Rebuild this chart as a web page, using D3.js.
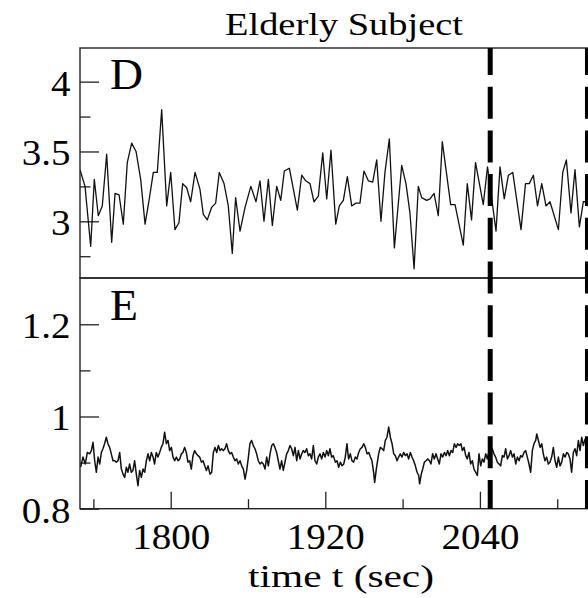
<!DOCTYPE html>
<html>
<head>
<meta charset="utf-8">
<script src="https://cdn.jsdelivr.net/npm/d3@7"></script>
<style>
  body { margin: 0; background: #fff; }
</style>
</head>
<body>
<script>
// time axis ticks (sec)
var xTicks = [1800, 1920, 2040],
    xMinor = [1740, 1860, 1980, 2100];

// panel D ticks
var dTicks = [3, 3.5, 4],
    dMinor = [2.75, 3.25, 3.75];

// panel E ticks
var eTicks = [0.8, 1, 1.2],
    eMinor = [0.9, 1.1];

// dashed window markers (sec)
var markers = [2048, 2123.5];

// panel D series: [time, value]
var panelD = [[1729.6,3.37],[1733.5,3.25],[1737.9,2.82],[1740.7,3.30],[1743.8,3.04],[1746.9,3.11],[1750.3,3.48],[1754.2,2.85],[1756.8,3.20],[1759.9,3.19],[1763.2,2.98],[1766.3,3.42],[1769.7,3.56],[1773.1,3.50],[1776.7,3.30],[1780.1,2.98],[1783.2,3.15],[1786.5,3.35],[1789.6,3.35],[1793.0,3.80],[1796.9,3.11],[1800.0,3.35],[1803.3,2.94],[1806.4,2.99],[1809.3,3.27],[1812.4,3.24],[1815.5,3.14],[1818.9,3.35],[1822.7,3.23],[1825.3,3.05],[1828.4,3.01],[1831.8,3.10],[1834.9,3.13],[1837.7,3.35],[1841.4,3.27],[1844.7,3.11],[1847.8,2.77],[1850.4,3.17],[1853.8,2.93],[1857.7,3.10],[1862.2,3.25],[1866.2,3.14],[1869.3,3.29],[1872.4,3.00],[1875.8,3.30],[1878.9,2.97],[1882.3,3.25],[1885.4,3.15],[1888.2,3.36],[1892.1,3.38],[1895.2,3.23],[1898.3,3.08],[1901.7,3.33],[1904.8,3.29],[1908.1,3.27],[1911.2,3.14],[1914.6,3.18],[1918.0,3.49],[1921.1,3.16],[1924.4,3.51],[1928.1,2.98],[1930.9,3.11],[1934.0,3.15],[1937.1,3.32],[1940.5,3.11],[1943.8,3.13],[1946.9,3.13],[1950.0,3.36],[1953.4,3.29],[1956.8,3.28],[1959.9,3.44],[1963.2,3.00],[1966.3,3.35],[1969.7,3.59],[1973.6,2.81],[1979.3,3.40],[1982.6,3.27],[1985.7,3.06],[1988.9,2.66],[1992.2,3.25],[1994.8,3.17],[1998.7,3.15],[2001.3,3.16],[2004.4,3.20],[2007.7,3.04],[2010.8,3.57],[2017.3,3.12],[2020.7,3.12],[2027.1,2.83],[2030.2,3.27],[2033.5,3.01],[2036.6,3.42],[2042.6,3.12],[2045.9,3.39],[2052.5,2.93],[2055.6,3.39],[2058.9,3.16],[2062.1,3.33],[2065.5,3.35],[2071.9,2.94],[2075.4,3.27],[2078.3,3.27],[2081.5,3.33],[2084.7,3.11],[2088.0,3.27],[2091.3,3.11],[2094.4,3.14],[2100.9,2.94],[2104.3,3.35],[2107.1,3.44],[2110.7,3.06],[2113.8,3.37],[2117.2,2.96],[2120.3,3.14],[2124.0,3.14]];

// panel E series: [time, value]
var panelE = [[1730.1,0.890],[1731.9,0.912],[1733.7,0.897],[1735.3,0.922],[1737.1,0.919],[1738.4,0.926],[1739.7,0.944],[1741.0,0.904],[1742.3,0.879],[1743.6,0.912],[1744.9,0.897],[1746.2,0.922],[1747.4,0.930],[1748.7,0.941],[1750.0,0.955],[1751.3,0.941],[1752.6,0.933],[1753.9,0.919],[1755.2,0.904],[1756.5,0.904],[1757.8,0.901],[1759.1,0.904],[1760.4,0.922],[1761.7,0.886],[1763.0,0.875],[1764.3,0.868],[1765.6,0.890],[1766.8,0.879],[1768.1,0.897],[1769.4,0.879],[1770.7,0.883],[1772.0,0.904],[1773.3,0.875],[1774.6,0.850],[1775.9,0.883],[1777.2,0.868],[1778.5,0.886],[1779.8,0.879],[1781.1,0.904],[1782.4,0.919],[1783.7,0.904],[1785.0,0.922],[1786.3,0.912],[1787.5,0.897],[1788.8,0.922],[1790.1,0.912],[1791.4,0.922],[1792.7,0.933],[1794.0,0.941],[1795.3,0.966],[1796.6,0.941],[1797.9,0.948],[1799.2,0.926],[1800.5,0.933],[1801.8,0.912],[1803.1,0.904],[1804.4,0.912],[1805.7,0.904],[1807.0,0.908],[1808.3,0.919],[1809.5,0.922],[1810.8,0.933],[1812.1,0.922],[1813.4,0.901],[1814.7,0.904],[1816.0,0.886],[1817.3,0.915],[1818.6,0.926],[1819.9,0.919],[1821.2,0.915],[1822.5,0.912],[1823.8,0.901],[1825.1,0.904],[1826.4,0.893],[1827.7,0.883],[1829.0,0.893],
  [1830.5,0.875],[1831.8,0.879],[1833.1,0.922],[1834.4,0.933],[1835.7,0.922],[1837.0,0.937],[1838.3,0.926],[1839.6,0.930],[1840.8,0.926],[1842.1,0.930],[1843.4,0.941],[1844.7,0.926],[1846.0,0.919],[1847.3,0.922],[1848.6,0.912],[1849.9,0.904],[1851.2,0.908],[1852.5,0.897],[1853.8,0.904],[1855.1,0.893],[1856.4,0.886],[1857.7,0.864],[1859.0,0.883],[1860.3,0.912],[1861.5,0.941],[1862.8,0.948],[1864.1,0.937],[1865.4,0.930],[1866.7,0.919],[1868.0,0.904],[1869.3,0.897],[1870.6,0.901],[1871.9,0.897],[1873.2,0.886],[1874.5,0.912],[1875.8,0.893],[1877.1,0.919],[1878.4,0.937],[1879.7,0.941],[1880.9,0.933],[1882.2,0.922],[1883.5,0.904],[1884.8,0.886],[1886.1,0.904],[1887.4,0.883],[1888.7,0.901],[1890.0,0.919],[1891.3,0.926],[1892.6,0.937],[1893.9,0.930],[1895.2,0.915],[1896.5,0.933],[1897.8,0.904],[1899.1,0.926],[1900.4,0.908],[1901.7,0.919],[1902.9,0.926],[1904.2,0.922],[1905.5,0.930],[1906.8,0.915],[1908.1,0.919],[1909.4,0.908],[1910.7,0.937],[1912.0,0.904],[1913.3,0.897],[1914.6,0.912],[1915.9,0.919],[1917.2,0.908],[1918.5,0.922],[1919.8,0.912],[1921.1,0.926],[1922.4,0.915],[1923.6,0.930],[1924.9,0.912],[1926.2,0.915],
  [1927.8,0.901],[1929.1,0.904],[1930.4,0.890],[1931.7,0.901],[1933.0,0.893],[1934.3,0.897],[1935.5,0.912],[1936.8,0.941],[1937.6,0.919],[1938.1,0.908],[1939.4,0.919],[1940.7,0.904],[1942.0,0.901],[1943.3,0.912],[1944.6,0.908],[1945.9,0.922],[1947.2,0.930],[1948.5,0.933],[1949.8,0.941],[1951.1,0.933],[1952.4,0.919],[1953.7,0.922],[1955.0,0.912],[1956.2,0.904],[1957.5,0.879],[1958.3,0.857],[1959.6,0.886],[1961.4,0.919],[1962.7,0.933],[1964.0,0.930],[1965.3,0.926],[1966.6,0.948],[1967.9,0.955],[1969.2,0.977],[1970.5,0.955],[1971.8,0.941],[1973.1,0.919],[1974.4,0.915],[1975.7,0.904],[1976.9,0.912],[1978.2,0.919],[1979.5,0.912],[1980.8,0.922],[1982.1,0.915],[1983.4,0.919],[1984.7,0.908],[1986.0,0.922],[1987.3,0.912],[1988.6,0.904],[1989.9,0.893],[1991.2,0.879],[1992.5,0.872],[1993.2,0.854],[1994.5,0.875],[1995.6,0.886],[1996.9,0.901],[1998.2,0.904],[1999.5,0.908],[2000.8,0.904],[2002.0,0.897],[2003.3,0.919],[2004.6,0.908],[2005.9,0.919],[2007.2,0.908],[2008.5,0.897],[2009.8,0.919],[2011.1,0.912],[2012.4,0.922],[2013.7,0.915],[2015.0,0.926],[2016.3,0.915],[2017.6,0.926],[2018.9,0.922],[2020.2,0.941],[2021.5,0.933],[2022.7,0.941],[2024.0,0.937],[2025.3,0.941],
  [2026.4,0.926],[2027.7,0.933],[2029.0,0.915],[2030.2,0.908],[2031.5,0.922],[2032.8,0.897],[2034.1,0.904],[2035.4,0.886],[2036.7,0.879],[2038.0,0.872],[2039.3,0.919],[2040.6,0.893],[2041.9,0.908],[2043.2,0.901],[2044.5,0.919],[2045.8,0.908],[2047.1,0.926],[2048.4,0.919],[2049.6,0.930],[2050.9,0.919],[2052.2,0.912],[2053.5,0.901],[2054.8,0.897],[2056.1,0.893],[2057.4,0.915],[2058.7,0.912],[2060.0,0.930],[2061.3,0.908],[2062.6,0.915],[2063.9,0.926],[2065.2,0.912],[2066.5,0.919],[2067.8,0.897],[2069.1,0.912],[2070.4,0.904],[2071.6,0.915],[2072.9,0.912],[2074.2,0.922],[2075.5,0.926],[2076.8,0.912],[2078.1,0.897],[2079.4,0.879],[2080.7,0.926],[2082.0,0.941],[2083.3,0.948],[2084.1,0.962],[2085.4,0.948],[2086.7,0.933],[2088.0,0.941],[2089.2,0.919],[2090.5,0.904],[2091.8,0.912],[2093.1,0.897],[2094.4,0.901],[2095.7,0.912],[2097.0,0.933],[2098.3,0.904],[2099.6,0.890],[2100.9,0.912],[2102.2,0.893],[2103.5,0.901],[2104.8,0.919],[2106.1,0.912],[2107.4,0.922],[2108.6,0.919],[2109.9,0.908],[2111.2,0.879],[2112.5,0.922],[2113.8,0.930],[2115.1,0.915],[2116.4,0.948],[2117.7,0.926],[2119.0,0.955],[2120.3,0.937],[2121.6,0.951],[2122.9,0.944],[2124.0,0.948]];

var width = 588, height = 598;
var plot = {left: 80, right: 592, dTop: 48, split: 278, bottom: 508.7};
var serif = "'Liberation Serif', 'Times New Roman', 'DejaVu Serif', serif";

var svg = d3.select("body").append("svg")
    .attr("width", width)
    .attr("height", height)
    .attr("font-family", serif);

// scales
var xScale = d3.scaleLinear().domain([1729.6, 2127.0]).range([plot.left, plot.right]);
var yD = d3.scaleLinear().domain([2.594, 4.241]).range([plot.split, plot.dTop]);
var yE = d3.scaleLinear().domain([0.8, 1.3004]).range([plot.bottom, plot.split]);

var fmt = d3.format("");

// narrow the tick numbers to a Times-like width
var labelWidth = function(s) {
  return s.replace(/[^0-9]/g, "").length * 19.5 + s.replace(/[0-9]/g, "").length * 9.75;
};
var fitLabels = function(sel) {
  sel.attr("textLength", function() { return labelWidth(this.textContent); })
     .attr("lengthAdjust", "spacingAndGlyphs");
};

// clip paths for each panel
var defs = svg.append("defs");
defs.append("clipPath").attr("id", "clipD").append("rect")
    .attr("x", plot.left).attr("y", plot.dTop)
    .attr("width", plot.right - plot.left).attr("height", plot.split - plot.dTop);
defs.append("clipPath").attr("id", "clipE").append("rect")
    .attr("x", plot.left).attr("y", plot.split)
    .attr("width", plot.right - plot.left).attr("height", plot.bottom - plot.split);

// y axes (ticks pointing inward)
function yAxis(scale, major, minor) {
  var g = svg.append("g").attr("transform", "translate(" + plot.left + ",0)");
  g.call(d3.axisLeft(scale).tickValues(major).tickSize(-19).tickPadding(9.5).tickFormat(fmt))
    .attr("font-size", 36)
    .attr("font-family", serif);
  g.select(".domain").remove();
  g.selectAll(".tick line").attr("stroke", "#222").attr("stroke-width", 1.3);
  g.selectAll(".tick text").attr("dy", 13.5).attr("fill", "#000").call(fitLabels);

  var m = svg.append("g").attr("transform", "translate(" + plot.left + ",0)");
  m.call(d3.axisLeft(scale).tickValues(minor).tickSize(-10.5).tickFormat(""));
  m.select(".domain").remove();
  m.selectAll(".tick line").attr("stroke", "#222").attr("stroke-width", 1.3);
}
yAxis(yD, dTicks, dMinor);
yAxis(yE, eTicks, eMinor);

// x axis on the bottom panel
var xg = svg.append("g").attr("transform", "translate(0," + plot.bottom + ")");
xg.call(d3.axisBottom(xScale).tickValues(xTicks).tickSize(-17).tickFormat(fmt))
  .attr("font-size", 36)
  .attr("font-family", serif);
xg.select(".domain").remove();
xg.selectAll(".tick line").attr("stroke", "#222").attr("stroke-width", 1.3);
xg.selectAll(".tick text").attr("y", 40.6).attr("dy", 0).attr("fill", "#000").call(fitLabels);

var xm = svg.append("g").attr("transform", "translate(0," + plot.bottom + ")");
xm.call(d3.axisBottom(xScale).tickValues(xMinor).tickSize(-9.5).tickFormat(""));
xm.select(".domain").remove();
xm.selectAll(".tick line").attr("stroke", "#222").attr("stroke-width", 1.3);

// data lines
var lineD = d3.line().x(d => xScale(d[0])).y(d => yD(d[1]));
var lineE = d3.line().x(d => xScale(d[0])).y(d => yE(d[1]));

svg.append("path")
    .attr("clip-path", "url(#clipD)")
    .attr("d", lineD(panelD))
    .attr("fill", "none")
    .attr("stroke", "#111")
    .attr("stroke-width", 1.3)
    .attr("stroke-linejoin", "round");

svg.append("path")
    .attr("clip-path", "url(#clipE)")
    .attr("d", lineE(panelE))
    .attr("fill", "none")
    .attr("stroke", "#111")
    .attr("stroke-width", 1.5)
    .attr("stroke-linejoin", "round");

// panel frames
svg.append("rect")
    .attr("x", plot.left).attr("y", plot.dTop)
    .attr("width", plot.right - plot.left).attr("height", plot.split - plot.dTop)
    .attr("fill", "none").attr("stroke", "#222").attr("stroke-width", 1.4);
svg.append("rect")
    .attr("x", plot.left).attr("y", plot.split)
    .attr("width", plot.right - plot.left).attr("height", plot.bottom - plot.split)
    .attr("fill", "none").attr("stroke", "#222").attr("stroke-width", 1.4);

// dashed window markers
svg.selectAll(".marker")
    .data(markers)
    .enter()
    .append("line")
    .attr("class", "marker")
    .attr("x1", d => xScale(d)).attr("x2", d => xScale(d))
    .attr("y1", plot.dTop).attr("y2", plot.bottom)
    .attr("stroke", "#000")
    .attr("stroke-width", 5)
    .attr("stroke-dasharray", "32,11.7")
    .attr("stroke-dashoffset", 5);

// panel letters
svg.append("text").attr("x", 110).attr("y", 89).attr("font-size", 45)
    .attr("textLength", 33).attr("lengthAdjust", "spacingAndGlyphs").text("D");
svg.append("text").attr("x", 110).attr("y", 320).attr("font-size", 45)
    .attr("textLength", 28).attr("lengthAdjust", "spacingAndGlyphs").text("E");

// title and axis label
svg.append("text")
    .attr("x", 344).attr("y", 35)
    .attr("text-anchor", "middle")
    .attr("font-size", 31)
    .attr("textLength", 238)
    .attr("lengthAdjust", "spacingAndGlyphs")
    .text("Elderly Subject");

svg.append("text")
    .attr("x", 341).attr("y", 587)
    .attr("text-anchor", "middle")
    .attr("font-size", 31)
    .attr("textLength", 186)
    .attr("lengthAdjust", "spacingAndGlyphs")
    .text("time t (sec)");
</script>
</body>
</html>
